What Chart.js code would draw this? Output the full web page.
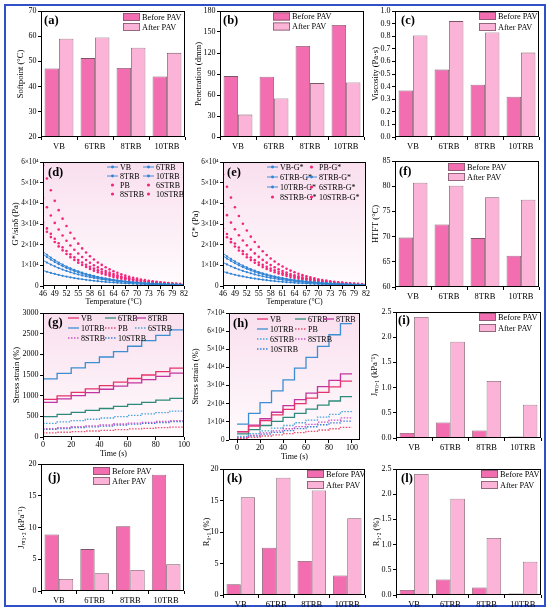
<!DOCTYPE html>
<html lang="en">
<head>
<meta charset="UTF-8">
<title>Binder tests before and after PAV</title>
<script src="https://cdn.jsdelivr.net/npm/chart.js@4.4.0/dist/chart.umd.min.js"></script>
<style>
    body { margin: 0; background: #fff; }
    .figura { position: relative; width: 550px; height: 614px; overflow: hidden; background: #fff; }
    .moldura { position: absolute; left: 4px; top: 4px; width: 538px; height: 599px; border: 2px solid #3050c8; }
    canvas { position: absolute; }
</style>
</head>
<body>
<div class="figura" id="figura">
    <div class="moldura"></div>
</div>

<script>
const categories = ['VB', '6TRB', '8TRB', '10TRB'];

const softBefore = [47.2, 51.3, 47.4, 44.0];
const softAfter = [59.0, 59.5, 55.4, 53.4];
const penBefore = [87, 86, 130, 160];
const penAfter = [32, 55, 77, 78];
const viscBefore = [0.37, 0.535, 0.415, 0.32];
const viscAfter = [0.805, 0.92, 0.83, 0.67];
const htftBefore = [69.8, 72.4, 69.7, 66.2];
const htftAfter = [80.7, 80.1, 77.8, 77.3];
const jnr01Before = [0.10, 0.31, 0.15, 0.03];
const jnr01After = [2.40, 1.91, 1.13, 0.66];
const jnr32Before = [8.9, 6.6, 10.2, 18.3];
const jnr32After = [1.9, 2.8, 3.3, 4.2];
const r01Before = [1.7, 7.5, 5.4, 3.1];
const r01After = [15.5, 18.6, 16.6, 12.2];
const r32Before = [0.10, 0.31, 0.15, 0.03];
const r32After = [2.40, 1.91, 1.13, 0.66];

// temperature sweep (°C)
const temps = [46, 47, 48, 49, 50, 51, 52, 53, 54, 55, 56, 57, 58, 59, 60, 61, 62, 63, 64,
    65, 66, 67, 68, 69, 70, 71, 72, 73, 74, 75, 76, 77, 78, 79, 80, 81, 82];
const tempTicks = [46, 49, 52, 55, 58, 61, 64, 67, 70, 73, 76, 79, 82];

// G*/sinδ (Pa)
const rutVB = [16600, 15110, 13750, 12510, 11380, 10360, 9430, 8580, 7800, 7100, 6460, 5880, 5350, 4870, 4430, 4030, 3670, 3340, 3040,
    2760, 2520, 2290, 2080, 1900, 1720, 1570, 1430, 1300, 1180, 1080, 980, 890, 810, 740, 670, 610, 560];
const rut6TRB = [15400, 14010, 12750, 11600, 10560, 9610, 8740, 7960, 7240, 6590, 6000, 5460, 4970, 4520, 4110, 3740, 3400, 3100, 2820,
    2560, 2330, 2120, 1930, 1760, 1600, 1460, 1330, 1210, 1100, 1000, 910, 830, 750, 690, 620, 570, 520];
const rut8TRB = [12400, 11350, 10380, 9500, 8690, 7950, 7280, 6660, 6090, 5570, 5100, 4670, 4270, 3910, 3570, 3270, 2990, 2740, 2510,
    2290, 2100, 1920, 1760, 1610, 1470, 1350, 1230, 1130, 1030, 940, 860, 790, 720, 660, 610, 550, 510];
const rut10TRB = [7500, 6900, 6350, 5840, 5370, 4940, 4550, 4180, 3850, 3540, 3260, 3000, 2760, 2540, 2330, 2150, 1970, 1820, 1670,
    1540, 1410, 1300, 1200, 1100, 1010, 930, 860, 790, 720, 670, 610, 560, 520, 480, 440, 400, 370];
const rutPB = [58400, 51980, 46300, 41200, 36700, 32600, 29000, 25800, 23000, 20500, 18200, 16200, 14400, 12800, 11400, 10200, 9050, 8050, 7170,
    6380, 5680, 5050, 4500, 4000, 3560, 3170, 2820, 2510, 2240, 1990, 1770, 1580, 1400, 1250, 1110, 990, 880];
const rut6STRB = [42600, 38130, 34120, 30540, 27330, 24460, 21890, 19600, 17540, 15700, 14050, 12570, 11250, 10070, 9010, 8070, 7220, 6460, 5780,
    5180, 4630, 4150, 3710, 3320, 2970, 2660, 2380, 2130, 1910, 1710, 1530, 1370, 1220, 1100, 980, 880, 780];
const rut8STRB = [30800, 27870, 25230, 22830, 20660, 18700, 16920, 15310, 13860, 12540, 11350, 10270, 9300, 8410, 7610, 6890, 6240, 5640, 5110,
    4620, 4180, 3790, 3430, 3100, 2810, 2540, 2300, 2080, 1880, 1700, 1540, 1400, 1260, 1140, 1040, 940, 850];
const rut10STRB = [29200, 26280, 23650, 21290, 19160, 17240, 15520, 13970, 12570, 11310, 10180, 9160, 8250, 7420, 6680, 6010, 5410, 4870, 4380,
    3940, 3550, 3200, 2880, 2590, 2330, 2100, 1890, 1700, 1530, 1380, 1240, 1110, 1000, 900, 810, 730, 660];

// G* (Pa)
const gVB = [15800, 14380, 13080, 11910, 10830, 9860, 8970, 8160, 7430, 6760, 6150, 5600, 5090, 4640, 4220, 3840, 3490, 3180, 2890,
    2630, 2390, 2180, 1980, 1810, 1640, 1500, 1360, 1240, 1130, 1030, 930, 850, 770, 700, 640, 580, 530];
const g6TRB = [14600, 13290, 12090, 11000, 10010, 9110, 8290, 7540, 6870, 6250, 5690, 5170, 4710, 4280, 3900, 3550, 3230, 2940, 2670,
    2430, 2210, 2010, 1830, 1670, 1520, 1380, 1260, 1140, 1040, 950, 860, 790, 720, 650, 590, 540, 490];
const g8TRB = [11400, 10430, 9540, 8730, 7990, 7310, 6690, 6120, 5600, 5130, 4690, 4290, 3930, 3590, 3290, 3010, 2750, 2520, 2310,
    2110, 1930, 1770, 1620, 1480, 1350, 1240, 1130, 1040, 950, 870, 790, 730, 670, 610, 560, 510, 470];
const g10TRB = [7000, 6440, 5920, 5450, 5010, 4610, 4240, 3900, 3590, 3300, 3040, 2800, 2570, 2370, 2180, 2000, 1840, 1690, 1560,
    1430, 1320, 1210, 1120, 1030, 940, 870, 800, 730, 680, 620, 570, 530, 480, 440, 410, 380, 350];
const gPB = [54000, 48060, 42770, 38070, 33880, 30150, 26840, 23880, 21260, 18920, 16840, 14980, 13340, 11870, 10560, 9400, 8370, 7450, 6630,
    5900, 5250, 4670, 4160, 3700, 3290, 2930, 2610, 2320, 2070, 1840, 1640, 1460, 1300, 1150, 1030, 910, 810];
const g6STRB = [38300, 34280, 30680, 27460, 24570, 21990, 19680, 17620, 15770, 14110, 12630, 11300, 10120, 9050, 8100, 7250, 6490, 5810, 5200,
    4650, 4160, 3730, 3330, 2980, 2670, 2390, 2140, 1920, 1710, 1530, 1370, 1230, 1100, 980, 880, 790, 700];
const g8STRB = [27800, 25160, 22770, 20600, 18650, 16870, 15270, 13820, 12510, 11320, 10240, 9270, 8390, 7590, 6870, 6220, 5630, 5090, 4610,
    4170, 3770, 3420, 3090, 2800, 2530, 2290, 2070, 1880, 1700, 1540, 1390, 1260, 1140, 1030, 930, 840, 760];
const g10STRB = [26200, 23580, 21220, 19100, 17190, 15470, 13920, 12530, 11280, 10150, 9140, 8220, 7400, 6660, 5990, 5390, 4860, 4370, 3930,
    3540, 3190, 2870, 2580, 2320, 2090, 1880, 1690, 1520, 1370, 1240, 1110, 1000, 900, 810, 730, 660, 590];

// MSCR creep steps, one level per 10 s cycle (%)
const cycleTimes = [0, 10, 20, 30, 40, 50, 60, 70, 80, 90, 100];
const timeTicks = [0, 20, 40, 60, 80, 100];
const lowVB = [910, 995, 1080, 1165, 1245, 1330, 1415, 1500, 1580, 1665, 1665];
const low6TRB = [495, 545, 595, 645, 690, 740, 790, 840, 890, 935, 935];
const low8TRB = [840, 920, 1000, 1075, 1155, 1230, 1310, 1390, 1465, 1545, 1545];
const low10TRB = [1405, 1540, 1670, 1800, 1935, 2065, 2195, 2330, 2460, 2590, 2590];
const lowPB = [100, 115, 130, 145, 160, 180, 195, 210, 225, 240, 240];
const low6STRB = [330, 365, 395, 430, 460, 495, 525, 560, 590, 625, 625];
const low8STRB = [205, 225, 250, 270, 290, 315, 335, 355, 375, 395, 395];
const low10STRB = [185, 205, 225, 245, 265, 290, 310, 330, 350, 370, 370];

const highVB = [4500, 7600, 10700, 13800, 16900, 20000, 23100, 26200, 29300, 32400, 32400];
const high6TRB = [3400, 5700, 8000, 10300, 12500, 14700, 17000, 19200, 21500, 23900, 23900];
const high8TRB = [4600, 8200, 11700, 15300, 18900, 22300, 25800, 29400, 32900, 36400, 36400];
const high10TRB = [8800, 14700, 20600, 27100, 33100, 39600, 45500, 51600, 58000, 64100, 64100];
const highPB = [800, 1500, 2200, 2800, 3500, 4100, 4800, 5500, 6200, 7000, 7000];
const high6STRB = [2000, 3500, 5000, 6500, 8000, 9500, 11000, 12600, 14100, 15600, 15600];
const high8STRB = [1500, 2700, 3900, 5000, 6200, 7400, 8600, 9800, 11000, 12200, 12200];
const high10STRB = [1200, 2200, 3200, 4200, 5200, 6300, 7300, 8400, 9400, 10400, 10400];

const lineNames = ['VB', '6TRB', '8TRB', '10TRB', 'PB', '6STRB', '8STRB', '10STRB'];

// ---------- styles ----------
const FONT = "'Liberation Serif', 'Times New Roman', serif";
const corAntes = '#f36db1';
const corDepois = '#fbb4d7';
const corBorda = '#7a5666';
const lineColors = ['#e6336c', '#2e8b7b', '#c2349f', '#3b8ed1', '#e8506f', '#4aa3d9', '#cc55c4', '#3a7fd3'];
const azulCurva = '#2f82d2';
const rosaPonto = '#f0287c';

function xy(xs, ys) {
    return xs.map((x, i) => ({ x: x, y: ys[i] }));
}

function pot4(v) {
    return v === 0 ? '0' : (v / 10000) + '×10⁴';
}

const panelDecor = {
    id: 'panelDecor',
    beforeDatasetsDraw(chart, args, o) {
        if (!o.shade) return;
        const a = chart.chartArea, ctx = chart.ctx;
        const g = ctx.createLinearGradient(0, a.top, 0, a.bottom);
        g.addColorStop(0, '#f9dfee');
        g.addColorStop(1, '#fffbfd');
        ctx.save();
        ctx.fillStyle = g;
        ctx.fillRect(a.left, a.top, a.right - a.left, a.bottom - a.top);
        ctx.restore();
    },
    afterDatasetsDraw(chart, args, o) {
        const a = chart.chartArea, ctx = chart.ctx;
        ctx.save();
        ctx.strokeStyle = '#000';
        ctx.lineWidth = 1;
        ctx.strokeRect(a.left + 0.5, a.top + 0.5, a.right - a.left - 1, a.bottom - a.top - 1);

        ctx.fillStyle = '#000';
        ctx.textBaseline = 'middle';
        ctx.font = 'bold 12.5px ' + FONT;
        ctx.fillText(o.letter, a.left + o.lx, a.top + o.ly);

        const lg = o.legend;
        ctx.font = lg.size + 'px ' + FONT;
        lg.items.forEach(function (it) {
            const ds = chart.data.datasets[it[0]];
            const x = a.left + lg.cols[it[1]];
            const y = a.top + lg.y + it[2] * lg.rowH;
            if (lg.box) {
                ctx.fillStyle = ds.backgroundColor;
                ctx.fillRect(x, y - 4, lg.symW, 8);
                ctx.strokeStyle = ds.borderColor;
                ctx.lineWidth = 0.8;
                ctx.strokeRect(x + 0.4, y - 3.6, lg.symW - 0.8, 7.2);
            } else {
                if (ds.showLine !== false) {
                    ctx.strokeStyle = ds.borderColor;
                    ctx.lineWidth = ds.borderWidth;
                    ctx.setLineDash(ds.borderDash || []);
                    ctx.beginPath();
                    ctx.moveTo(x, y);
                    ctx.lineTo(x + lg.symW, y);
                    ctx.stroke();
                    ctx.setLineDash([]);
                }
                if (ds.pointRadius > 0) {
                    ctx.fillStyle = ds.pointBackgroundColor;
                    ctx.beginPath();
                    ctx.arc(x + lg.symW / 2, y, ds.pointRadius + 0.3, 0, Math.PI * 2);
                    ctx.fill();
                }
            }
            ctx.fillStyle = '#000';
            ctx.fillText(ds.label, x + lg.symW + 2, y + 0.5);
        });
        ctx.restore();
    }
};

const tickFont = { family: FONT, size: 8 };
const smallTick = { family: FONT, size: 7.2 };
const catFont = { family: FONT, size: 8.5 };
const titleFont = { family: FONT, size: 8.5 };

function yAxis(min, max, step, title, fmt, font) {
    return {
        type: 'linear', min: min, max: max,
        ticks: { stepSize: step, font: font || tickFont, color: '#000', padding: 1.5, callback: fmt || (v => v) },
        grid: { drawOnChartArea: false, tickLength: 3, color: '#000' },
        border: { display: false },
        title: { display: true, text: title, font: titleFont, color: '#000', padding: 0 }
    };
}

function catAxis() {
    return {
        type: 'category', offset: true,
        ticks: { font: catFont, color: '#000', padding: 2, maxRotation: 0 },
        grid: { offset: true, drawOnChartArea: false, tickLength: 3, color: '#000' },
        border: { display: false }
    };
}

function linAxis(min, max, step, title, fixed) {
    const ax = {
        type: 'linear', min: min, max: max,
        ticks: { stepSize: step, font: tickFont, color: '#000', padding: 0.5, maxRotation: 0, autoSkip: false },
        grid: { drawOnChartArea: false, tickLength: 3, color: '#000' },
        border: { display: false },
        title: { display: true, text: title, font: { family: FONT, size: 8 }, color: '#000', padding: 0 }
    };
    if (fixed) ax.afterBuildTicks = s => { s.ticks = fixed.map(v => ({ value: v })); };
    return ax;
}

function addPanel(box, yW, xH, type, data, scales, decor) {
    const padT = 8, padR = 10;
    const cv = document.createElement('canvas');
    const w = yW + box.R - box.L + padR;
    const h = padT + box.B - box.T + xH;
    cv.width = w;
    cv.height = h;
    cv.style.left = (box.L - yW) + 'px';
    cv.style.top = (box.T - padT) + 'px';
    cv.style.width = w + 'px';
    cv.style.height = h + 'px';
    document.getElementById('figura').appendChild(cv);
    scales.x.afterFit = s => { s.height = xH; };
    scales.y.afterFit = s => { s.width = yW; };
    return new Chart(cv, {
        type: type,
        data: data,
        options: {
            responsive: false,
            animation: false,
            events: [],
            layout: { padding: { top: padT, right: padR, left: 0, bottom: 0 } },
            scales: scales,
            plugins: { legend: { display: false }, tooltip: { enabled: false }, panelDecor: decor }
        },
        plugins: [panelDecor]
    });
}

function barData(before, after) {
    return {
        labels: categories,
        datasets: [
            { label: 'Before PAV', data: before, backgroundColor: corAntes, borderColor: corBorda, borderWidth: 0.8, categoryPercentage: 0.8, barPercentage: 1.0 },
            { label: 'After PAV', data: after, backgroundColor: corDepois, borderColor: corBorda, borderWidth: 0.8, categoryPercentage: 0.8, barPercentage: 1.0 }
        ]
    };
}

function barLegend(dx, dy, rowH) {
    return { box: true, size: 8.3, symW: 17, cols: [dx], y: dy, rowH: rowH, items: [[0, 0, 0], [1, 0, 1]] };
}

function dmaData(blue, pink, suffix) {
    const ds = [];
    blue.forEach(function (arr, i) {
        ds.push({ label: lineNames[i] + suffix, data: xy(temps, arr), borderColor: azulCurva, borderWidth: 0.9,
            pointRadius: 1.1, pointBackgroundColor: azulCurva, pointBorderWidth: 0 });
    });
    pink.forEach(function (arr, i) {
        ds.push({ label: lineNames[i + 4] + suffix, data: xy(temps, arr), showLine: false, borderColor: rosaPonto, borderWidth: 0,
            pointRadius: 1.3, pointBackgroundColor: rosaPonto, pointBorderWidth: 0 });
    });
    return { datasets: ds };
}

function creepData(series) {
    return {
        datasets: series.map(function (arr, i) {
            return { label: lineNames[i], data: xy(cycleTimes, arr), stepped: true, borderColor: lineColors[i],
                borderWidth: 1.3, borderDash: i >= 4 ? [1.5, 1.5] : [], pointRadius: 0, fill: false };
        })
    };
}

// (a) softening point
addPanel({ L: 41, T: 11, R: 185, B: 137 }, 25, 16, 'bar', barData(softBefore, softAfter),
    { x: catAxis(), y: yAxis(20, 70, 10, 'Softpoint (°C)') },
    { letter: '(a)', lx: 3, ly: 10, legend: barLegend(82, 6, 10) });

// (b) penetration
addPanel({ L: 220, T: 11, R: 364, B: 137 }, 26, 16, 'bar', barData(penBefore, penAfter),
    { x: catAxis(), y: yAxis(0, 180, 30, 'Penetration (dmm)') },
    { letter: '(b)', lx: 3, ly: 10, legend: barLegend(53, 5.5, 10) });

// (c) viscosity
addPanel({ L: 395, T: 11, R: 539, B: 137 }, 24, 16, 'bar', barData(viscBefore, viscAfter),
    { x: catAxis(), y: yAxis(0, 1, 0.1, 'Viscosity (Pa·s)', v => v.toFixed(1)) },
    { letter: '(c)', lx: 6, ly: 10, legend: barLegend(84, 5, 11) });

// (d) G*/sinδ
addPanel({ L: 43, T: 162, R: 184, B: 286 }, 32, 21, 'line',
    dmaData([rutVB, rut6TRB, rut8TRB, rut10TRB], [rutPB, rut6STRB, rut8STRB, rut10STRB], ''),
    { x: linAxis(46, 82, 3, 'Temperature (°C)', tempTicks), y: yAxis(0, 60000, 10000, 'G*/sinδ (Pa)', pot4, smallTick) },
    { letter: '(d)', lx: 5, ly: 11, shade: true,
      legend: { size: 8, symW: 11, cols: [64, 100], y: 5, rowH: 9,
        items: [[0, 0, 0], [1, 1, 0], [2, 0, 1], [3, 1, 1], [4, 0, 2], [5, 1, 2], [6, 0, 3], [7, 1, 3]] } });

// (e) G*
addPanel({ L: 223, T: 162, R: 366, B: 286 }, 32, 21, 'line',
    dmaData([gVB, g6TRB, g8TRB, g10TRB], [gPB, g6STRB, g8STRB, g10STRB], '-G*'),
    { x: linAxis(46, 82, 3, 'Temperature (°C)', tempTicks), y: yAxis(0, 60000, 10000, 'G* (Pa)', pot4, smallTick) },
    { letter: '(e)', lx: 4, ly: 11, shade: true,
      legend: { size: 8, symW: 11, cols: [44, 83], y: 5, rowH: 10,
        items: [[0, 0, 0], [4, 1, 0], [1, 0, 1], [2, 1, 1], [3, 0, 2], [5, 1, 2], [6, 0, 3], [7, 1, 3]] } });

// (f) HTFT
addPanel({ L: 395, T: 161, R: 539, B: 287 }, 24, 16, 'bar', barData(htftBefore, htftAfter),
    { x: catAxis(), y: yAxis(60, 85, 5, 'HTFT (°C)') },
    { letter: '(f)', lx: 4, ly: 11, legend: barLegend(53, 6, 10) });

// (g) MSCR 0.1 kPa
addPanel({ L: 43, T: 313, R: 184, B: 437 }, 31, 22, 'line',
    creepData([lowVB, low6TRB, low8TRB, low10TRB, lowPB, low6STRB, low8STRB, low10STRB]),
    { x: linAxis(0, 100, 20, 'Time (s)'), y: yAxis(0, 3000, 500, 'Stress strain (%)') },
    { letter: '(g)', lx: 5, ly: 10, shade: true,
      legend: { size: 8, symW: 11, cols: [25, 62, 92], y: 5, rowH: 10,
        items: [[0, 0, 0], [1, 1, 0], [2, 2, 0], [3, 0, 1], [4, 1, 1], [5, 2, 1], [6, 0, 2], [7, 1, 2]] } });

// (h) MSCR 3.2 kPa
addPanel({ L: 229, T: 313, R: 360, B: 440 }, 38, 22, 'line',
    creepData([highVB, high6TRB, high8TRB, high10TRB, highPB, high6STRB, high8STRB, high10STRB]),
    { x: linAxis(-7, 107, 20, 'Time (s)', timeTicks), y: yAxis(0, 70000, 10000, 'Stress strain (%)', pot4, smallTick) },
    { letter: '(h)', lx: 4, ly: 11, shade: true,
      legend: { size: 8, symW: 11, cols: [28, 66, 94], y: 6, rowH: 10,
        items: [[0, 0, 0], [1, 1, 0], [2, 2, 0], [3, 0, 1], [4, 1, 1], [5, 0, 2], [6, 1, 2], [7, 0, 3]] } });

// (i) Jnr 0.1
addPanel({ L: 396, T: 312, R: 541, B: 438 }, 26, 16, 'bar', barData(jnr01Before, jnr01After),
    { x: catAxis(), y: yAxis(0, 2.5, 0.5, 'Jₙᵣ₀.₁ (kPa⁻¹)', v => v.toFixed(1)) },
    { letter: '(i)', lx: 2, ly: 9, legend: barLegend(83, 5, 11) });

// (j) Jnr 3.2
addPanel({ L: 41, T: 464, R: 184, B: 591 }, 24, 16, 'bar', barData(jnr32Before, jnr32After),
    { x: catAxis(), y: yAxis(0, 20, 5, 'Jₙᵣ₃.₂ (kPa⁻¹)') },
    { letter: '(j)', lx: 7, ly: 14, legend: barLegend(52, 7, 10) });

// (k) R 0.1
addPanel({ L: 223, T: 469, R: 365, B: 595 }, 21, 16, 'bar', barData(r01Before, r01After),
    { x: catAxis(), y: yAxis(0, 20, 5, 'R₀.₁ (%)') },
    { letter: '(k)', lx: 4, ly: 10, legend: barLegend(84, 5, 11) });

// (l) R 3.2
addPanel({ L: 396, T: 469, R: 541, B: 595 }, 24, 16, 'bar', barData(r32Before, r32After),
    { x: catAxis(), y: yAxis(0, 2.5, 0.5, 'R₃.₂ (%)', v => v.toFixed(1)) },
    { letter: '(l)', lx: 5, ly: 10, legend: barLegend(85, 5, 11) });
</script>
</body>
</html>
